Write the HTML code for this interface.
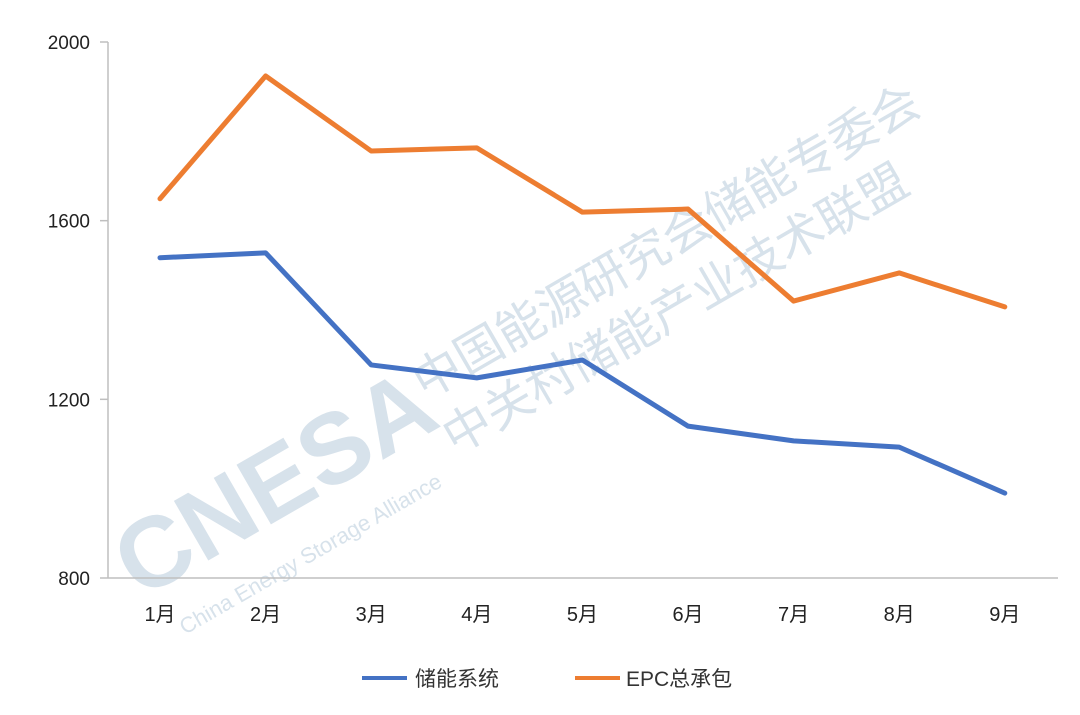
<!DOCTYPE html>
<html><head><meta charset="utf-8">
<style>
body{margin:0;background:#fff;}
svg{display:block;font-family:"Liberation Sans","Noto Sans CJK SC",sans-serif;}
</style></head>
<body>
<svg id="chart" width="1080" height="715">
<g opacity="0.4">
<text x="140" y="600" transform="rotate(-30 140 600)" font-size="100" font-weight="bold" fill="#9bb6cc">CNESA</text>
<text x="185" y="635" transform="rotate(-30 185 635)" font-size="22" fill="#9bb6cc">China Energy Storage Alliance</text>
<text x="425" y="400" transform="rotate(-30 425 400)" font-size="48" fill="#9bb6cc">中国能源研究会储能专委会</text>
<text x="455" y="455" transform="rotate(-30 455 455)" font-size="48" fill="#9bb6cc">中关村储能产业技术联盟</text>
</g>
<g id="axes"></g>
<g id="series"></g>
<g>
<line x1="362" y1="678" x2="407" y2="678" stroke="#4472c4" stroke-width="4"/>
<text x="415" y="686" font-size="21" fill="#333">储能系统</text>
<line x1="575" y1="678" x2="620" y2="678" stroke="#ed7d31" stroke-width="4"/>
<text x="626" y="686" font-size="21" fill="#333">EPC总承包</text>
</g>
</svg>
<script>
const categories=["1月","2月","3月","4月","5月","6月","7月","8月","9月"];
const storageSystem=[1517,1528,1277,1248,1288,1140,1107,1093,990];
const epc=[1649,1924,1756,1763,1619,1626,1420,1483,1407];
const yTicks=[800,1200,1600,2000];
const NS="http://www.w3.org/2000/svg";
const x=i=>160+i*105.6;
const y=v=>578-(v-800)/1200*536;
const axes=document.getElementById('axes');
function mk(tag,attrs,parent){const e=document.createElementNS(NS,tag);for(const k in attrs)e.setAttribute(k,attrs[k]);parent.appendChild(e);return e;}
let a=mk('line',{x1:108,y1:42,x2:108,y2:578,stroke:'#bfbfbf','stroke-width':1.5},axes);


a=mk('line',{x1:108,y1:578,x2:1058,y2:578,stroke:'#bfbfbf','stroke-width':1.5},axes);


yTicks.forEach(t=>{
 const tk=mk('line',{x1:100,y1:y(t),x2:108,y2:y(t),stroke:'#bfbfbf','stroke-width':1.5},axes);
 
 
 const l=mk('text',{x:90,y:y(t)+7,'font-size':19,fill:'#222','text-anchor':'end'},axes);
 l.textContent=t;
 
 
});
categories.forEach((c,i)=>{
 const l=mk('text',{x:x(i),y:621,'font-size':20,fill:'#222','text-anchor':'middle'},axes);
 l.textContent=c;
 
 
});
const ser=document.getElementById('series');
[[storageSystem,'#4472c4','line-storage-system'],[epc,'#ed7d31','line-epc']].forEach(([d,col,n])=>{
 const p=mk('polyline',{points:d.map((v,i)=>x(i)+','+y(v)).join(' '),fill:'none',stroke:col,'stroke-width':5,'stroke-linejoin':'round','stroke-linecap':'round'},ser);
 
 
});
</script>
</body></html>
